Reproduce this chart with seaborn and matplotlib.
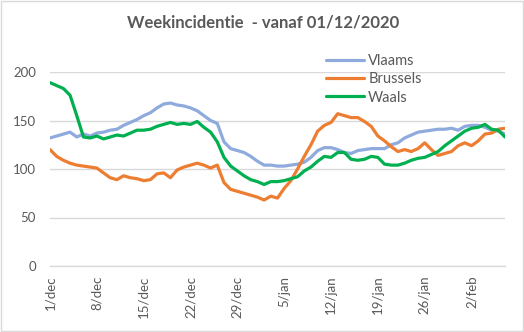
import numpy as np
import pandas as pd
import matplotlib
matplotlib.use("Agg")
import matplotlib.pyplot as plt
import seaborn as sns
from matplotlib.patches import Rectangle
from matplotlib.lines import Line2D

# ---- data (daily values, 1 Dec 2020 .. 7 Feb 2021) ----
vlaams = [132, 134, 136, 138, 133, 136, 134, 137, 138, 140,
          141, 145, 148, 151, 155, 158, 163, 167, 168, 166,
          165, 163, 160, 155, 150, 147, 128, 121, 119, 117,
          113, 108, 104, 104, 103, 103, 104, 105, 107, 112,
          119, 122, 122, 120, 117, 116, 119, 120, 121, 121,
          121, 125, 127, 132, 135, 138, 139, 140, 141, 141,
          142, 140, 144, 145, 145, 143, 140, 139, 136]
brussels = [120, 113, 109, 106, 104, 103, 102, 101, 96, 91,
            89, 93, 91, 90, 88, 89, 95, 96, 91, 99,
            102, 104, 106, 104, 101, 104, 86, 79, 77, 75,
            73, 71, 68, 72, 70, 80, 88, 100, 113, 125,
            139, 145, 148, 157, 155, 153, 153, 149, 144, 134,
            129, 123, 118, 120, 118, 121, 127, 120, 114, 116,
            118, 124, 127, 124, 129, 136, 137, 141, 142]
waals = [189, 186, 183, 176, 155, 133, 132, 134, 131, 133,
         135, 134, 137, 140, 140, 141, 144, 146, 148, 146,
         147, 146, 149, 143, 138, 128, 112, 103, 98, 93,
         89, 87, 84, 87, 87, 88, 90, 92, 98, 102,
         108, 113, 112, 117, 117, 110, 109, 110, 113, 112,
         105, 104, 104, 106, 109, 111, 112, 115, 118, 124,
         129, 134, 139, 142, 143, 146, 141, 140, 133]
series_names = ["Vlaams", "Brussels", "Waals"]
tick_positions = [0, 7, 14, 21, 28, 35, 42, 49, 56, 63]
tick_labels = ["1/dec", "8/dec", "15/dec", "22/dec", "29/dec",
               "5/jan", "12/jan", "19/jan", "26/jan", "2/feb"]
y_ticks = [0, 50, 100, 150, 200]
title = "Weekincidentie  - vanaf 01/12/2020"

colors = {"Vlaams": "#8FAADC", "Brussels": "#ED7D31", "Waals": "#00B050"}

days = np.arange(len(vlaams))
df = pd.concat([
    pd.DataFrame({"dag": days, "waarde": vals, "regio": name})
    for name, vals in zip(series_names, [vlaams, brussels, waals])
])

sns.set_style("white")
plt.rcParams["font.family"] = ["Lato", "DejaVu Sans"]

fig = plt.figure(figsize=(5.24, 3.32), dpi=100)
ax = fig.add_axes([50 / 524, 1 - 266 / 332, 455 / 524, 194 / 332])

sns.lineplot(data=df, x="dag", y="waarde", hue="regio", palette=colors,
             linewidth=2.3, ax=ax, legend=False)

ax.set_xlim(0, 68)
ax.set_ylim(0, 200)
ax.set_yticks(y_ticks)
ax.set_yticklabels([str(v) for v in y_ticks])
ax.set_xticks(tick_positions)
ax.set_xticklabels(tick_labels, rotation=90)
ax.set_xlabel("")
ax.set_ylabel("")
ax.grid(axis="y", color="#D9D9D9", linewidth=1)
ax.set_axisbelow(True)
for s in ["top", "right", "left"]:
    ax.spines[s].set_visible(False)
ax.spines["bottom"].set_color("#D9D9D9")
ax.spines["bottom"].set_linewidth(1)
ax.tick_params(axis="x", colors="#595959", labelsize=9.5, length=4,
               width=1, color="#D9D9D9", direction="out", pad=3)
ax.tick_params(axis="y", colors="#595959", labelsize=9.5, length=0, pad=10)

fig.text(0.503, 1 - 22 / 332, title, ha="center", va="center",
         fontsize=12, fontweight="bold", color="#595959")

handles = [Line2D([0], [0], color=colors[n], linewidth=2.3) for n in series_names]
leg = fig.legend(handles, series_names, loc="upper left",
                 bbox_to_anchor=(320 / 524, 1 - 48 / 332), frameon=False,
                 fontsize=10.5, handlelength=2.6, handletextpad=0.3,
                 labelspacing=0.3, borderaxespad=0)
for t in leg.get_texts():
    t.set_color("#595959")

fig.patches.append(Rectangle((0.001, 0.002), 0.997, 0.995, transform=fig.transFigure,
                             fill=False, edgecolor="#D9D9D9", linewidth=1))

fig.savefig("out.png", dpi=100)
